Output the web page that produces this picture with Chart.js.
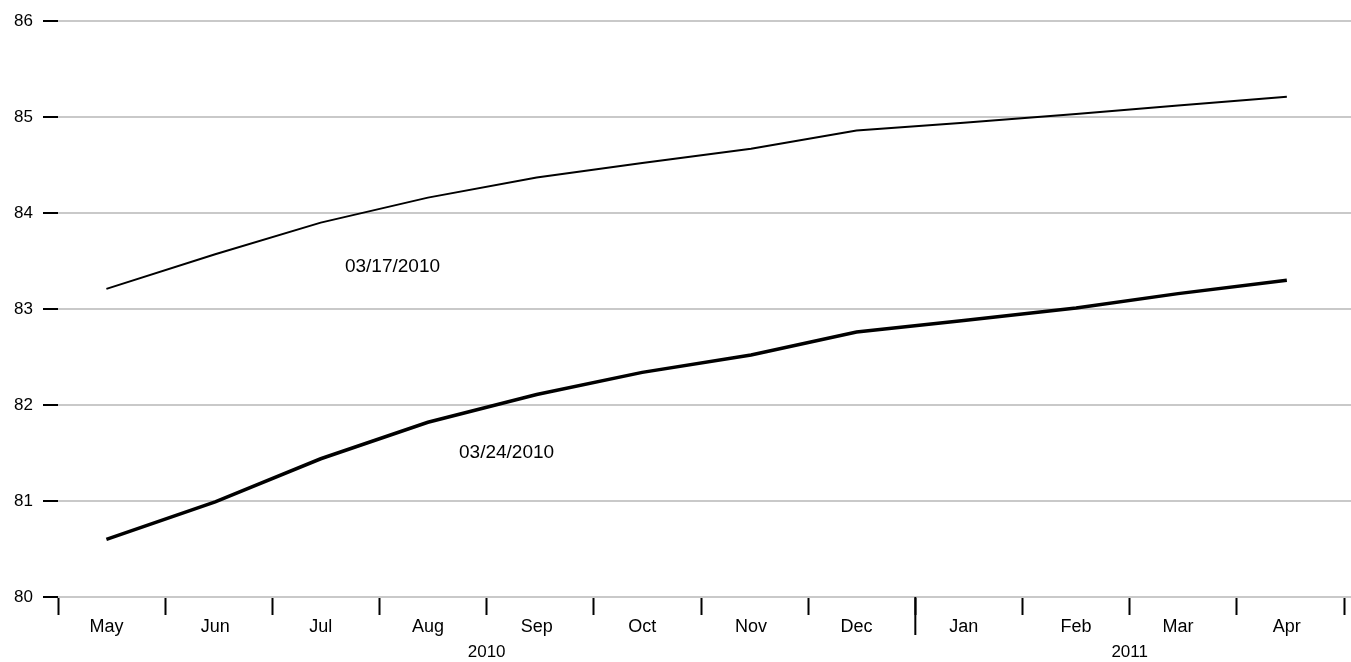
<!DOCTYPE html>
<html>
<head>
<meta charset="utf-8">
<script src="https://cdn.jsdelivr.net/npm/chart.js@4/dist/chart.umd.min.js"></script>
<style>
  html, body { margin: 0; padding: 0; background: #ffffff; overflow: hidden; }
  canvas { display: block; }
</style>
</head>
<body>
<canvas id="c" width="1351" height="662"></canvas>
<script>
const months = ["May", "Jun", "Jul", "Aug", "Sep", "Oct", "Nov", "Dec", "Jan", "Feb", "Mar", "Apr"];
const monthStarts = ["2010-05-01", "2010-06-01", "2010-07-01", "2010-08-01", "2010-09-01", "2010-10-01",
                     "2010-11-01", "2010-12-01", "2011-01-01", "2011-02-01", "2011-03-01", "2011-04-01"];
const monthLabelDates = ["2010-05-15", "2010-06-15", "2010-07-15", "2010-08-15", "2010-09-15", "2010-10-15",
                         "2010-11-15", "2010-12-15", "2011-01-15", "2011-02-15", "2011-03-15", "2011-04-15"];
const years = ["2010", "2011"];
const yearFirstMonth = [0, 8];
const dates = ["2010-05-15", "2010-06-15", "2010-07-15", "2010-08-15", "2010-09-15", "2010-10-15",
               "2010-11-15", "2010-12-15", "2011-01-15", "2011-02-15", "2011-03-15", "2011-04-15"];
const series0317 = [83.21, 83.57, 83.90, 84.16, 84.37, 84.52, 84.67, 84.86, 84.94, 85.03, 85.12, 85.21];
const series0324 = [80.60, 80.99, 81.44, 81.82, 82.11, 82.34, 82.52, 82.76, 82.88, 83.01, 83.16, 83.30];
const yTicks = [80, 81, 82, 83, 84, 85, 86];
const seriesNames = ["03/17/2010", "03/24/2010"];
const seriesLabelDates = ["2010-07-22", "2010-08-24"];
const seriesLabelValues = [83.44, 81.5];

const FONT = "'Liberation Sans', Arial, Helvetica, sans-serif";

// Each month occupies one equal unit on the x axis; a date maps to month index + fraction of the month.
function monthPos(dateStr) {
  const [yy, mm, dd] = dateStr.split('-').map(Number);
  const idx = monthStarts.findIndex(s => { const [a, b] = s.split('-').map(Number); return a === yy && b === mm; });
  const days = new Date(Date.UTC(yy, mm, 0)).getUTCDate();
  return idx + (dd - 1) / days;
}
const toPoints = vals => vals.map((v, i) => ({ x: monthPos(dates[i]), y: v }));

const xTickValues = [];
for (let i = 0; i <= months.length; i++) {
  xTickValues.push(i);
  if (i < months.length) xTickValues.push(monthPos(monthLabelDates[i]));
}

const extras = {
  id: 'extras',
  beforeDatasetsDraw(chart) {
    const ctx = chart.ctx;
    const y = chart.scales.y, area = chart.chartArea;
    ctx.save();
    ctx.strokeStyle = '#c9c9c9';
    ctx.lineWidth = 2;
    yTicks.forEach(v => {
      const py = y.getPixelForValue(v);
      ctx.beginPath();
      ctx.moveTo(area.right, py);
      ctx.lineTo(chart.width, py);
      ctx.stroke();
    });
    ctx.restore();
  },
  afterDraw(chart) {
    const ctx = chart.ctx;
    const x = chart.scales.x, y = chart.scales.y, area = chart.chartArea;
    ctx.save();
    ctx.strokeStyle = '#000';
    ctx.lineWidth = 2;
    yearFirstMonth.slice(1).forEach(m => {
      const px = x.getPixelForValue(m);
      ctx.beginPath();
      ctx.moveTo(px, area.bottom);
      ctx.lineTo(px, area.bottom + 38);
      ctx.stroke();
    });
    ctx.fillStyle = '#000';
    ctx.font = '17px ' + FONT;
    ctx.textAlign = 'center';
    ctx.textBaseline = 'middle';
    years.forEach((label, i) => {
      const l = x.getPixelForValue(yearFirstMonth[i]);
      const r = x.getPixelForValue(i + 1 < yearFirstMonth.length ? yearFirstMonth[i + 1] : months.length);
      ctx.fillText(label, (l + r) / 2, area.bottom + 55);
    });
    ctx.font = '19px ' + FONT;
    ctx.textAlign = 'left';
    seriesNames.forEach((n, i) => {
      ctx.fillText(n, x.getPixelForValue(monthPos(seriesLabelDates[i])), y.getPixelForValue(seriesLabelValues[i]));
    });
    ctx.restore();
  }
};

new Chart(document.getElementById('c'), {
  type: 'line',
  data: {
    datasets: [
      { label: seriesNames[0], data: toPoints(series0317), borderColor: '#000', borderWidth: 2, pointRadius: 0, tension: 0, fill: false },
      { label: seriesNames[1], data: toPoints(series0324), borderColor: '#000', borderWidth: 3.5, pointRadius: 0, tension: 0, fill: false }
    ]
  },
  options: {
    responsive: false,
    animation: false,
    layout: { padding: { top: 21, right: 7, bottom: 0, left: 0 } },
    plugins: { legend: { display: false }, tooltip: { enabled: false } },
    scales: {
      x: {
        type: 'linear',
        min: 0, max: months.length,
        afterFit(s) { s.height = 65; },
        afterBuildTicks(s) { s.ticks = xTickValues.map(v => ({ value: v })); },
        border: { display: false },
        grid: {
          drawOnChartArea: false, drawTicks: true, tickLength: 18, tickWidth: 2,
          tickColor: c => (c.tick && c.tick.value % 1 === 0) ? '#000' : 'rgba(0,0,0,0)'
        },
        ticks: {
          color: '#000', font: { family: FONT, size: 18 }, padding: 1, maxRotation: 0, autoSkip: false,
          callback: v => (v % 1 === 0) ? '' : months[Math.floor(v)]
        }
      },
      y: {
        min: 80, max: 86,
        afterFit(s) { s.width = 58; },
        afterBuildTicks(s) { s.ticks = yTicks.map(v => ({ value: v })); },
        border: { display: false },
        grid: { color: '#c9c9c9', lineWidth: 2, tickColor: '#000', tickWidth: 2, tickLength: 15, drawTicks: true },
        ticks: { color: '#000', font: { family: FONT, size: 17 }, padding: 10 }
      }
    }
  },
  plugins: [extras]
});
</script>
</body>
</html>
